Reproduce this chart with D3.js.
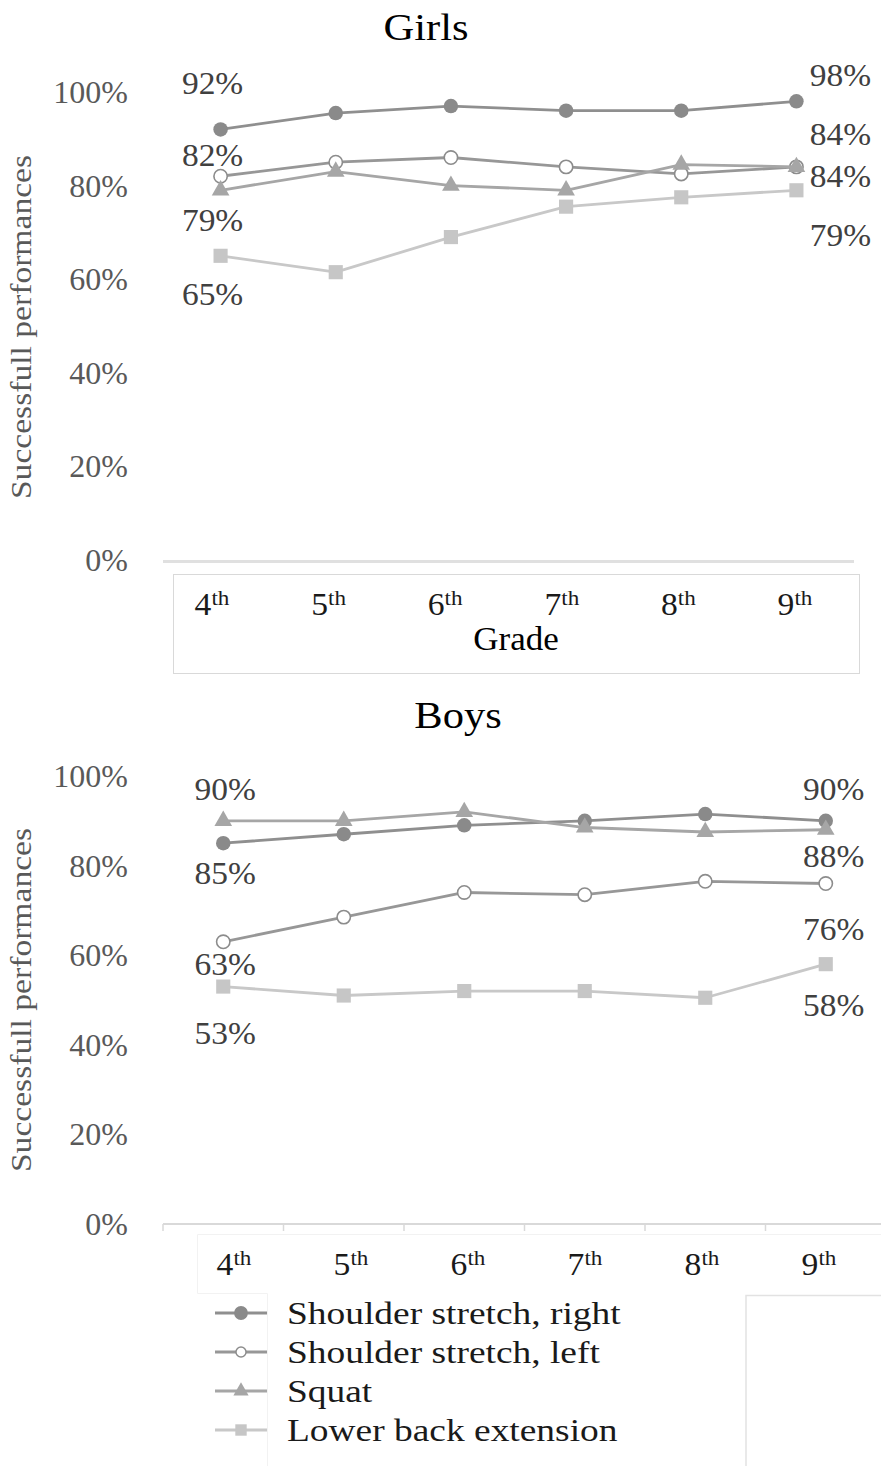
<!DOCTYPE html>
<html>
<head>
<meta charset="utf-8">
<script src="https://cdn.jsdelivr.net/npm/d3@7"></script>
<style>
  html, body { margin: 0; padding: 0; background: #fff; }
  svg { display: block; }
  text { font-family: "Liberation Serif", "Times New Roman", serif; }
</style>
</head>
<body>
<svg id="chart" width="881" height="1466"></svg>
<script>
// ---- data ---------------------------------------------------------------
const grades = ["4", "5", "6", "7", "8", "9"];
const gradeSuffix = "th";
const seriesNames = ["Shoulder stretch, right", "Shoulder stretch, left", "Squat", "Lower back extension"];
const yTicks = [0, 20, 40, 60, 80, 100];

// Girls, % successful performances per grade
const girlsShoulderRight = [92, 95.5, 97, 96, 96, 98];
const girlsShoulderLeft  = [82, 85, 86, 84, 82.5, 84];
const girlsSquat         = [79, 83, 80, 79, 84.5, 84];
const girlsLowerBack     = [65, 61.5, 69, 75.5, 77.5, 79];

// Boys, % successful performances per grade
const boysShoulderRight = [85, 87, 89, 90, 91.5, 90];
const boysShoulderLeft  = [63, 68.5, 74, 73.5, 76.5, 76];
const boysSquat         = [90, 90, 92, 88.5, 87.5, 88];
const boysLowerBack     = [53, 51, 52, 52, 50.5, 58];

// ---- styling ------------------------------------------------------------
const styles = [
  { line: "#8f8f8f", marker: "circle",   fill: "#8a8a8a", stroke: "#8a8a8a", size: 165, legendSize: 150 },
  { line: "#979797", marker: "circle",   fill: "#ffffff", stroke: "#8c8c8c", size: 140, legendSize: 80 },
  { line: "#a6a6a6", marker: "triangle", fill: "#a6a6a6", stroke: "#a6a6a6", size: 135, legendSize: 100 },
  { line: "#c8c8c8", marker: "square",   fill: "#c6c6c6", stroke: "#c6c6c6", size: 200, legendSize: 130 }
];
const symbolType = { circle: d3.symbolCircle, triangle: d3.symbolTriangle, square: d3.symbolSquare };

const svg = d3.select("#chart");
const FONT = "Liberation Serif";

// text with optional horizontal stretch
function label(parent, x, y, str, o = {}) {
  return parent.append("text")
    .attr("transform", `translate(${x},${y}) rotate(${o.rotate || 0}) scale(${o.sx || 1},1)`)
    .attr("text-anchor", o.anchor || "middle")
    .attr("font-size", o.size || 32)
    .attr("fill", o.color || "#000")
    .text(str);
}

function gradeLabel(parent, x, y, g) {
  const t = parent.append("text")
    .attr("transform", `translate(${x},${y}) scale(1.05,1)`)
    .attr("text-anchor", "middle")
    .attr("fill", "#1a1a1a");
  t.append("tspan").attr("font-size", 32).text(g);
  t.append("tspan").attr("font-size", 22).attr("dy", -10).text(gradeSuffix);
}

function drawPanel(cfg) {
  const g = svg.append("g");
  const x = d3.scaleBand().domain(grades).range(cfg.xRange);
  const cx = d => x(d) + x.bandwidth() / 2;
  const y = d3.scaleLinear().domain([0, 100]).range(cfg.yRange);

  // title
  label(g, cfg.titleX, cfg.titleY, cfg.title, { size: 38, sx: 1.12, color: "#000" });

  // y axis labels
  const ya = g.append("g")
    .attr("transform", `translate(${cfg.xRange[0]},0)`)
    .call(d3.axisLeft(y).tickValues(yTicks).tickFormat(d => d + "%").tickSize(0).tickPadding(35));
  ya.select(".domain").remove();
  ya.selectAll("text")
    .attr("font-family", FONT)
    .attr("font-size", 32)
    .attr("fill", "#595959")
    .attr("dy", "0.33em");

  // y axis title
  label(g, 31, cfg.yTitleY, "Successfull performances",
        { size: 30, sx: 1.12, rotate: -90, color: "#595959" });

  // x axis
  cfg.drawAxis(g, x, y);

  // series
  const all = cfg.data;
  all.forEach((vals, i) => {
    const st = styles[i];
    const pts = grades.map((gr, j) => [cx(gr), y(vals[j])]);
    g.append("path")
      .attr("d", d3.line()(pts))
      .attr("fill", "none")
      .attr("stroke", st.line)
      .attr("stroke-width", 2.8)
      .attr("stroke-linejoin", "round");
    g.selectAll(null).data(pts).join("path")
      .attr("transform", p => `translate(${p[0]},${p[1]})`)
      .attr("d", d3.symbol(symbolType[st.marker], st.size)())
      .attr("fill", st.fill)
      .attr("stroke", st.stroke)
      .attr("stroke-width", st.fill === "#ffffff" ? 1.6 : 0);
  });

  // value labels at first and last grade
  cfg.valueLabels.forEach(l => {
    const vals = all[l.series];
    const j = l.end === "first" ? 0 : grades.length - 1;
    const v = vals[j];
    label(g, cx(grades[j]) + l.dx, y(v) + l.dy, Math.round(v) + "%",
          { size: 31, sx: 1.08, color: "#404040" }).attr("dy", "0.34em");
  });
  return { x, y };
}

// ---- Girls --------------------------------------------------------------
drawPanel({
  title: "Girls", titleX: 426, titleY: 40,
  xRange: [163, 854], yRange: [560, 92], yTitleY: 327,
  data: [girlsShoulderRight, girlsShoulderLeft, girlsSquat, girlsLowerBack],
  valueLabels: [
    { series: 0, end: "first", dx: -8, dy: -46 },
    { series: 1, end: "first", dx: -8, dy: -21 },
    { series: 2, end: "first", dx: -8, dy: 30 },
    { series: 3, end: "first", dx: -8, dy: 39 },
    { series: 0, end: "last", dx: 44, dy: -26 },
    { series: 1, end: "last", dx: 44, dy: -32 },
    { series: 2, end: "last", dx: 44, dy: 10 },
    { series: 3, end: "last", dx: 44, dy: 45 }
  ],
  drawAxis: (g, x, y) => {
    const [x0, x1] = x.range();
    g.append("line").attr("x1", x0).attr("x2", x1).attr("y1", y(0) + 1.5).attr("y2", y(0) + 1.5)
      .attr("stroke", "#e0e0e0").attr("stroke-width", 3);
    g.append("rect").attr("x", 173.5).attr("y", 574.5).attr("width", 686).attr("height", 99)
      .attr("fill", "none").attr("stroke", "#d9d9d9").attr("stroke-width", 1);
    const lx = d3.scalePoint().domain(grades).range([212, 795]);
    grades.forEach(gr => gradeLabel(g, lx(gr), 615, gr));
    label(g, 516, 650, "Grade", { size: 33, sx: 1.06, color: "#000" });
  }
});

// ---- Boys ---------------------------------------------------------------
drawPanel({
  title: "Boys", titleX: 458, titleY: 728,
  xRange: [163, 886], yRange: [1224, 776], yTitleY: 1000,
  data: [boysShoulderRight, boysShoulderLeft, boysSquat, boysLowerBack],
  valueLabels: [
    { series: 2, end: "first", dx: 2, dy: -31 },
    { series: 0, end: "first", dx: 2, dy: 30 },
    { series: 1, end: "first", dx: 2, dy: 23 },
    { series: 3, end: "first", dx: 2, dy: 47 },
    { series: 0, end: "last", dx: 8, dy: -31 },
    { series: 2, end: "last", dx: 8, dy: 27 },
    { series: 1, end: "last", dx: 8, dy: 46 },
    { series: 3, end: "last", dx: 8, dy: 41 }
  ],
  drawAxis: (g, x, y) => {
    const [x0, x1] = x.range();
    const base = y(0);
    g.append("line").attr("x1", x0).attr("x2", x1).attr("y1", base).attr("y2", base)
      .attr("stroke", "#d9d9d9").attr("stroke-width", 2);
    grades.forEach(gr => {
      g.append("line").attr("x1", x(gr)).attr("x2", x(gr)).attr("y1", base).attr("y2", base + 7)
        .attr("stroke", "#d9d9d9").attr("stroke-width", 1.5);
    });
    // faint frames around the category labels and the legend
    g.append("path").attr("d", "M881,1234.5H197.5V1293.5H267.5V1466")
      .attr("fill", "none").attr("stroke", "#f2f2f2").attr("stroke-width", 1);
    g.append("path").attr("d", "M881,1295.5H746V1466")
      .attr("fill", "none").attr("stroke", "#e2e2e2").attr("stroke-width", 1.5);
    const lx = d3.scalePoint().domain(grades).range([234, 819]);
    grades.forEach(gr => gradeLabel(g, lx(gr), 1275, gr));
  }
});

// ---- legend -------------------------------------------------------------
const legendY = d3.scalePoint().domain(seriesNames).range([1313, 1430]);
const legend = svg.append("g");
seriesNames.forEach((name, i) => {
  const st = styles[i];
  const yy = legendY(name);
  legend.append("line").attr("x1", 215).attr("x2", 267).attr("y1", yy).attr("y2", yy)
    .attr("stroke", st.line).attr("stroke-width", 2.8);
  legend.append("path")
    .attr("transform", `translate(241,${yy})`)
    .attr("d", d3.symbol(symbolType[st.marker], st.legendSize)())
    .attr("fill", st.fill)
    .attr("stroke", st.stroke)
    .attr("stroke-width", st.fill === "#ffffff" ? 1.5 : 0);
  label(legend, 287, yy, name, { size: 32, sx: 1.17, anchor: "start", color: "#1a1a1a" })
    .attr("dy", "0.33em");
});
</script>
</body>
</html>
